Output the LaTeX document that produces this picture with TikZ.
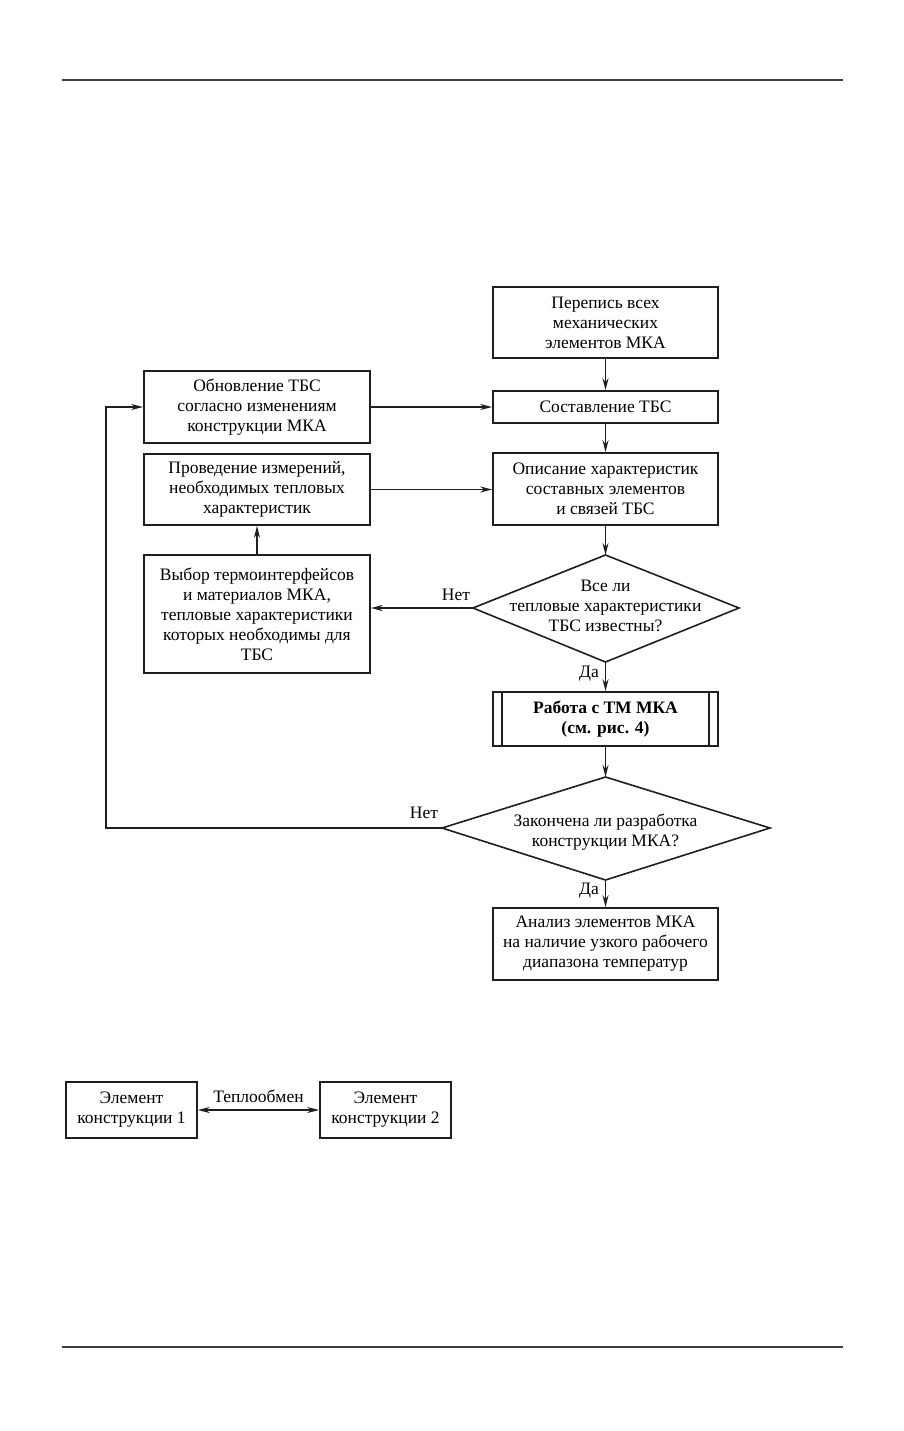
\documentclass[tikz,border=0pt]{standalone}
\usepackage{fontspec}
\setmainfont{Liberation Serif}
\usetikzlibrary{arrows.meta,shapes.geometric,calc}
\begin{document}
\begin{tikzpicture}[x=1pt,y=-1pt,
  every node/.style={font=\fontsize{17.5}{20}\selectfont},
  line/.style={line width=1.6pt,draw=black!88},
  arr/.style={line, -{Stealth[length=12pt,width=6pt]}},
  darr/.style={line, {Stealth[length=12pt,width=6pt]}-{Stealth[length=12pt,width=6pt]}},
  pbox/.style={line, rectangle, align=center, inner sep=0pt},
  lbl/.style={inner sep=0pt}]
\useasboundingbox (0,0) rectangle (904,1431);
\draw[line width=1.6pt, draw=black!75] (62,80) -- (843,80);
\draw[line width=1.6pt, draw=black!75] (62,1347) -- (843,1347);

% right column
\node[pbox, minimum width=225, minimum height=71] (b1) at (605.5,322.5) {Перепись всех\\механических\\элементов МКА};
\node[pbox, minimum width=225, minimum height=32] (b2) at (605.5,407) {Составление ТБС};
\node[pbox, minimum width=225, minimum height=72] (b3) at (605.5,489) {Описание характеристик\\составных элементов\\и связей ТБС};
\coordinate (d1t) at (605.5,555); \coordinate (d1b) at (605.5,662);
\coordinate (d1l) at (473,608); \coordinate (d1r) at (739,608);
\draw[line] (d1t) -- (d1r) -- (d1b) -- (d1l) -- cycle;
\node[lbl, align=center] (d1) at (605.5,606) {Все ли\\тепловые характеристики\\ТБС известны?};
\node[pbox, minimum width=225, minimum height=54] (b4) at (605.5,719) {\bfseries Работа с ТМ МКА\\\bfseries (см. рис. 4)};
\draw[line] (502,692) -- (502,746);
\draw[line] (709,692) -- (709,746);
\coordinate (d2t) at (605.5,777); \coordinate (d2b) at (605.5,880);
\coordinate (d2l) at (442,828); \coordinate (d2r) at (770,828);
\draw[line] (d2t) -- (d2r) -- (d2b) -- (d2l) -- cycle;
\node[lbl, align=center] (d2) at (605.5,832) {Закончена ли разработка\\конструкции МКА?};
\node[pbox, minimum width=225, minimum height=72] (b5) at (605.5,944) {Анализ элементов МКА\\на наличие узкого рабочего\\диапазона температур};

% left column
\node[pbox, minimum width=226, minimum height=72] (l1) at (257,407) {Обновление ТБС\\согласно изменениям\\конструкции МКА};
\node[pbox, minimum width=226, minimum height=71] (l2) at (257,489.5) {Проведение измерений,\\необходимых тепловых\\характеристик};
\node[pbox, minimum width=226, minimum height=118] (l3) at (257,614) {Выбор термоинтерфейсов\\и материалов МКА,\\тепловые характеристики\\которых необходимы для\\ТБС};

% connectors
\draw[arr] (b1.south) -- (b2.north);
\draw[arr] (b2.south) -- (b3.north);
\draw[arr] (b3.south) -- (d1t);
\draw[arr] (d1b) -- (b4.north);
\draw[arr] (b4.south) -- (d2t);
\draw[arr] (d2b) -- (b5.north);
\draw[arr] (l1.east) -- (b2.west);
\draw[arr] (l2.east) -- (l2.east -| b3.west);
\draw[arr] (d1l) -- (d1l -| l3.east);
\draw[arr] (l3.north) -- (l2.south);
\coordinate (c1) at (106,828);
\coordinate (c2) at (106,407);
\draw[arr] (d2l) -- (c1) -- (c2) -- (l1.west);

\node[lbl] (n1) at (456,595) {Нет};
\node[lbl] (y1) at (589,674) {Да};
\node[lbl] (n2) at (424,813) {Нет};
\node[lbl] (y2) at (589,891) {Да};

% bottom figure
\node[pbox, minimum width=131, minimum height=56] (e1) at (131.5,1110) {Элемент\\конструкции 1};
\node[pbox, minimum width=131, minimum height=56] (e2) at (385.5,1110) {Элемент\\конструкции 2};
\draw[darr] (e1.east) -- (e2.west);
\node[lbl] (t) at (258.5,1096) {Теплообмен};
\end{tikzpicture}
\end{document}
